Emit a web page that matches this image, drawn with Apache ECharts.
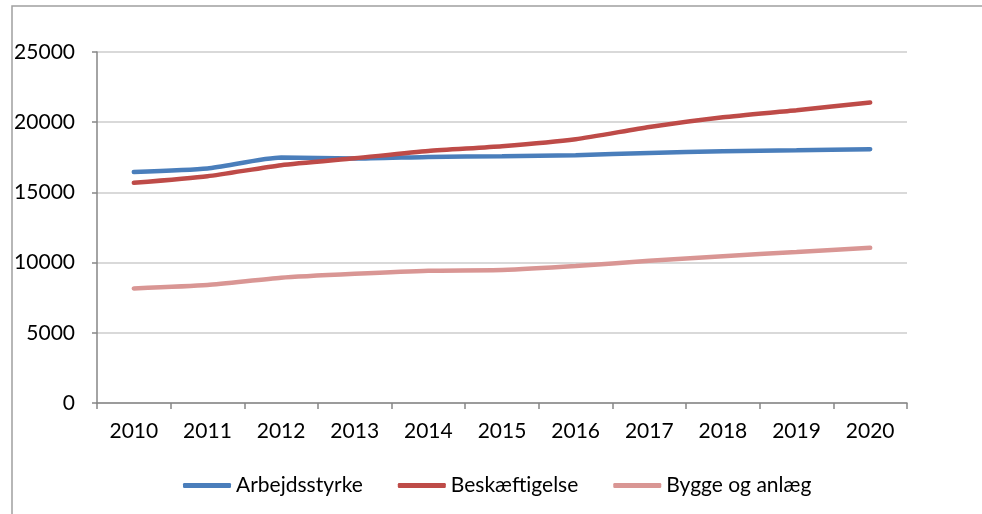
<!DOCTYPE html>
<html>
<head>
<meta charset="utf-8">
<script src="https://cdn.jsdelivr.net/npm/echarts@6/dist/echarts.min.js"></script>
<style>
html, body { margin: 0; padding: 0; background: #fff; }
#main { width: 982px; height: 514px; }
</style>
</head>
<body>
<div id="main"></div>
<script>
var years = ['2010', '2011', '2012', '2013', '2014', '2015', '2016', '2017', '2018', '2019', '2020'];
var arbejdsstyrke = [16460, 16700, 17480, 17410, 17530, 17580, 17650, 17810, 17930, 18000, 18080];
var beskaeftigelse = [15680, 16150, 16940, 17430, 17950, 18290, 18790, 19660, 20350, 20850, 21400];
var byggeOgAnlaeg = [8160, 8400, 8920, 9200, 9420, 9470, 9750, 10130, 10460, 10750, 11050];

var font = 'Lato';
var chart = echarts.init(document.getElementById('main'));

function lineSeries(name, data, color) {
    return {
        name: name,
        type: 'line',
        data: data,
        smooth: 0.2,
        symbol: 'none',
        lineStyle: { color: color, width: 4.5, cap: 'round' },
        itemStyle: { color: color }
    };
}

option = {
    animation: false,
    graphic: [{
        type: 'rect',
        shape: { x: 12, y: 6, width: 1000, height: 600 },
        style: { fill: 'none', stroke: '#a0a0a0', lineWidth: 1.5 },
        silent: true
    }],
    grid: { left: 97, right: 75, top: 52, bottom: 111 },
    legend: {
        left: 178,
        top: 470,
        itemWidth: 48,
        itemHeight: 5,
        itemGap: 35,
        icon: 'roundRect',
        textStyle: { fontFamily: font, fontSize: 21, color: '#000' },
        data: ['Arbejdsstyrke', 'Beskæftigelse', 'Bygge og anlæg']
    },
    xAxis: {
        type: 'category',
        data: years,
        boundaryGap: true,
        axisLine: { lineStyle: { color: '#868686', width: 1.5 } },
        axisTick: { show: true, length: 6, lineStyle: { color: '#868686', width: 1.5 } },
        axisLabel: { fontFamily: font, fontSize: 21, color: '#000', margin: 18 }
    },
    yAxis: {
        type: 'value',
        min: 0,
        max: 25000,
        interval: 5000,
        axisLine: { show: true, lineStyle: { color: '#868686', width: 1.5 } },
        axisTick: { show: true, length: 5, lineStyle: { color: '#868686', width: 1.5 } },
        axisLabel: {
            fontFamily: font, fontSize: 21, color: '#000', margin: 22,
            formatter: function (v) { return String(v); }
        },
        splitLine: { lineStyle: { color: '#cccccc', width: 1.5 } }
    },
    series: [
        lineSeries('Arbejdsstyrke', arbejdsstyrke, '#4a7ebb'),
        lineSeries('Beskæftigelse', beskaeftigelse, '#be4b48'),
        lineSeries('Bygge og anlæg', byggeOgAnlaeg, '#d99694')
    ]
};

chart.setOption(option, true);
</script>
</body>
</html>
